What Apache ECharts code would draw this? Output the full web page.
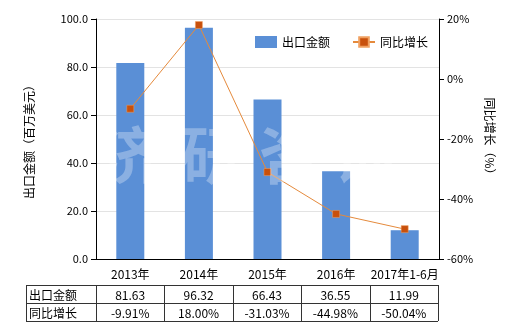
<!DOCTYPE html>
<html><head><meta charset="utf-8">
<script src="https://cdn.jsdelivr.net/npm/echarts@6/dist/echarts.min.js"></script>
<style>html,body{margin:0;padding:0;background:#fff}#c{width:520px;height:330px}</style>
</head><body><div id="c"></div>
<script>
const categories = ['2013年','2014年','2015年','2016年','2017年1-6月'];
const exportValues = [81.63, 96.32, 66.43, 36.55, 11.99];
const growthValues = [-9.91, 18.00, -31.03, -44.98, -50.04];
const exportLabels = ['81.63','96.32','66.43','36.55','11.99'];
const growthLabels = ['-9.91%','18.00%','-31.03%','-44.98%','-50.04%'];
const rowNames = ['出口金额','同比增长'];

const FONT = '"Noto Sans CJK SC", "Noto Sans", sans-serif';
const G = {left: 96, right: 81, top: 19, bottom: 71};
const W = 520, H = 330;
const chart = echarts.init(document.getElementById('c'), null, {renderer: 'canvas'});

function buildTable() {
  const x0 = 26, x1 = G.left, xEnd = W - G.right - 1;
  const yTop = 285, rowH = 18;
  const colW = (xEnd - x1) / categories.length;
  const els = [];
  const line = (a, b, c, d) => els.push({type: 'line', shape: {x1: a, y1: b, x2: c, y2: d}, style: {stroke: '#333', lineWidth: 1}, silent: true});
  for (let r = 0; r <= 2; r++) line(x0, yTop + r * rowH + 0.5, xEnd, yTop + r * rowH + 0.5);
  line(x0 + 0.5, yTop, x0 + 0.5, yTop + 2 * rowH);
  for (let c = 0; c <= categories.length; c++) {
    const x = Math.round(x1 + c * colW) + 0.5;
    line(x, yTop, x, yTop + 2 * rowH);
  }
  const rows = [exportLabels, growthLabels];
  rows.forEach((vals, r) => {
    els.push({type: 'text', x: x0 + 3, y: yTop + r * rowH + rowH / 2 + 1, style: {text: rowNames[r], fill: '#000', font: '12px ' + FONT, textVerticalAlign: 'middle', textAlign: 'left'}, silent: true});
    vals.forEach((v, c) => {
      els.push({type: 'text', x: x1 + c * colW + colW / 2, y: yTop + r * rowH + rowH / 2 + 1, style: {text: v, fill: '#000', font: '12px ' + FONT, textVerticalAlign: 'middle', textAlign: 'center'}, silent: true});
    });
  });
  // watermark
  const wm = ['济','研','咨','询'];
  const wx = [130, 212, 290, 365];
  wm.forEach((t, i) => els.push({type: 'text', x: wx[i], y: 155, z: 100, style: {text: t, fill: 'rgba(255,255,255,0.3)', font: 'bold 62px ' + FONT, textAlign: 'center', textVerticalAlign: 'middle'}, silent: true}));
  return els;
}

chart.setOption({
  animation: false,
  backgroundColor: '#fff',
  textStyle: {fontFamily: FONT},
  grid: G,
  legend: {
    top: 31, left: 250, itemGap: 22, itemWidth: 22, itemHeight: 12,
    textStyle: {fontSize: 12, color: '#000', fontFamily: FONT},
    data: [{name: '出口金额', icon: 'rect'}, {name: '同比增长'}]
  },
  xAxis: {
    type: 'category', data: categories,
    axisLine: {lineStyle: {color: '#000'}},
    axisTick: {alignWithLabel: true, lineStyle: {color: '#000'}},
    axisLabel: {color: '#000', fontSize: 12, margin: 9, interval: 0, hideOverlap: false, fontFamily: FONT}
  },
  yAxis: [{
    type: 'value', min: 0, max: 100, interval: 20,
    name: '出口金额（百万美元）', nameLocation: 'middle', nameGap: 61, nameRotate: 90,
    nameTextStyle: {color: '#000', fontSize: 12, fontFamily: FONT},
    axisLine: {show: true, lineStyle: {color: '#000'}},
    axisTick: {show: true, lineStyle: {color: '#000'}},
    axisLabel: {color: '#000', fontSize: 11, formatter: v => v.toFixed(1), fontFamily: FONT},
    splitLine: {lineStyle: {color: '#e3e3e3'}}
  }, {
    type: 'value', min: -60, max: 20, interval: 20, position: 'right',
    name: '同比增长（%）', nameLocation: 'middle', nameGap: 41, nameRotate: -90,
    nameTextStyle: {color: '#000', fontSize: 12, fontFamily: FONT},
    axisLine: {show: true, lineStyle: {color: '#000'}},
    axisTick: {show: true, lineStyle: {color: '#000'}},
    axisLabel: {color: '#000', fontSize: 11, formatter: '{value}%', fontFamily: FONT},
    splitLine: {show: false}
  }],
  series: [{
    name: '出口金额', type: 'bar', data: exportValues, barWidth: 28,
    itemStyle: {color: '#5a8fd6'}
  }, {
    name: '同比增长', type: 'line', yAxisIndex: 1, data: growthValues,
    symbol: 'rect', symbolSize: 7,
    lineStyle: {color: '#e58a3c', width: 1},
    itemStyle: {color: '#c8500c', borderColor: '#f0a060', borderWidth: 0.5}
  }],
  graphic: buildTable()
});
</script></body></html>
